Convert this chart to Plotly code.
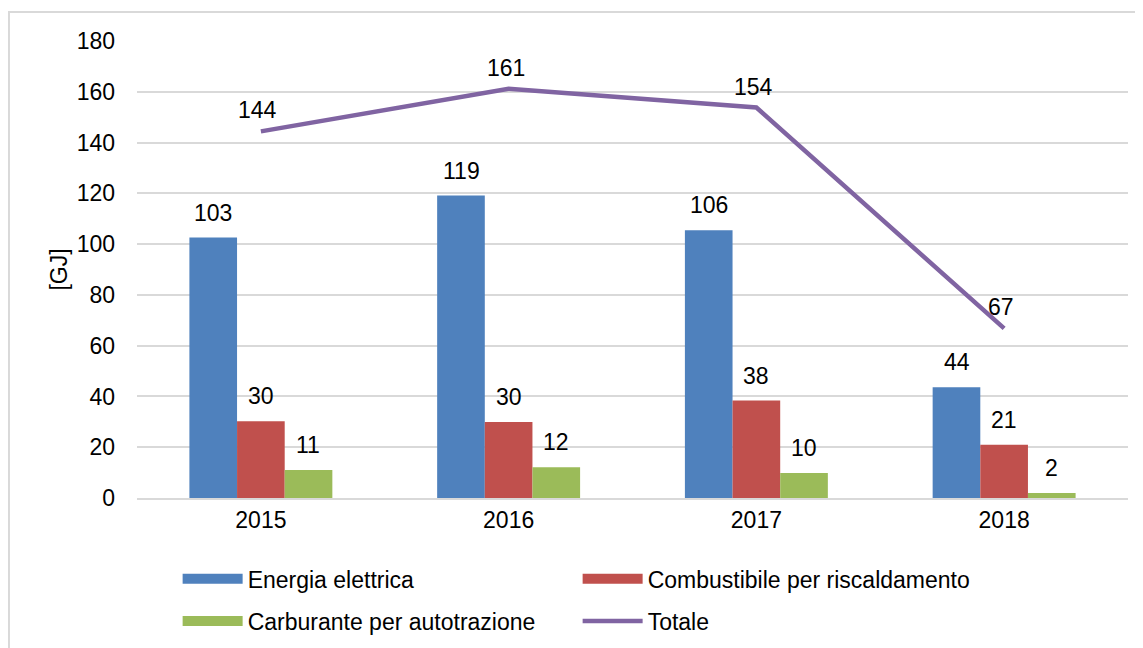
import plotly.graph_objects as go

years = ["2015", "2016", "2017", "2018"]
energia = [102.6, 119.1, 105.5, 43.6]
combustibile = [30.2, 29.9, 38.4, 21.0]
carburante = [11.0, 12.1, 9.8, 2.0]
totale = [144.4, 161.2, 153.8, 66.8]
y_ticks = [0, 20, 40, 60, 80, 100, 120, 140, 160, 180]

names = ["Energia elettrica", "Combustibile per riscaldamento", "Carburante per autotrazione", "Totale"]
colors = ["#4F81BD", "#C0504D", "#9BBB59", "#8064A2"]
FONT = "Liberation Sans, Arial, sans-serif"
FS = 23

fig = go.Figure()
series = [energia, combustibile, carburante]
legends = ["legend", "legend", "legend2"]
for vals, name, col, lg in zip(series, names[:3], colors[:3], legends):
    fig.add_trace(go.Bar(x=years, y=vals, name=name, marker=dict(color=col, line=dict(width=0)),
                         legendgroup=name, showlegend=False))
    # legend key drawn as a wide rectangle (like the original's legend swatch)
    fig.add_trace(go.Scatter(x=[years[0]], y=[None], name=name, mode="lines", legendgroup=name,
                             line=dict(color=col, width=13), legend=lg, hoverinfo="skip"))
fig.add_trace(go.Scatter(x=years, y=totale, name=names[3], mode="lines",
                         line=dict(color=colors[3], width=4.5), legend="legend2"))

annotations = []
offsets = [-47.5, 0, 47.5]
for vals, off in zip(series, offsets):
    for i, v in enumerate(vals):
        annotations.append(dict(x=i, y=v, xref="x", yref="y", text=f"{v:.0f}", showarrow=False,
                                xshift=off, yshift=25, font=dict(size=FS, color="#000000", family=FONT)))
for i, v in enumerate(totale):
    annotations.append(dict(x=i, y=v, xref="x", yref="y", text=f"{v:.0f}", showarrow=False,
                            xshift=-3, yshift=21, font=dict(size=FS, color="#000000", family=FONT)))

fig.update_layout(
    width=1135, height=640,
    margin=dict(l=129, r=15, t=33, b=150, autoexpand=False),
    paper_bgcolor="white", plot_bgcolor="white",
    font=dict(family=FONT, size=FS, color="#000000"),
    barmode="group", bargap=0.423, bargroupgap=0,
    annotations=annotations,
    legend=dict(orientation="h", x=0.041, xanchor="left", y=-0.177, yanchor="middle",
                entrywidth=325, entrywidthmode="pixels", itemwidth=60,
                font=dict(size=FS, family=FONT), bgcolor="rgba(0,0,0,0)"),
    legend2=dict(orientation="h", x=0.041, xanchor="left", y=-0.269, yanchor="middle",
                 entrywidth=325, entrywidthmode="pixels", itemwidth=60,
                 font=dict(size=FS, family=FONT), bgcolor="rgba(0,0,0,0)"),
    shapes=[dict(type="rect", xref="paper", yref="paper", x0=-0.1292, x1=1.03, y0=-0.4, y1=1.0635,
                 line=dict(color="#D9D9D9", width=2), layer="below")],
)
fig.update_xaxes(type="category", showgrid=False, showline=True, linecolor="#D9D9D9", linewidth=2,
                 ticks="", tickfont=dict(size=FS, family=FONT))
fig.update_yaxes(range=[0, 180], tickvals=y_ticks, showgrid=True, gridcolor="#D9D9D9", gridwidth=2,
                 zeroline=False, showline=False, ticks="", ticklabelstandoff=21,
                 title=dict(text="[GJ]", standoff=2, font=dict(size=FS, family=FONT)),
                 tickfont=dict(size=FS, family=FONT))

fig.write_html("out.html")
